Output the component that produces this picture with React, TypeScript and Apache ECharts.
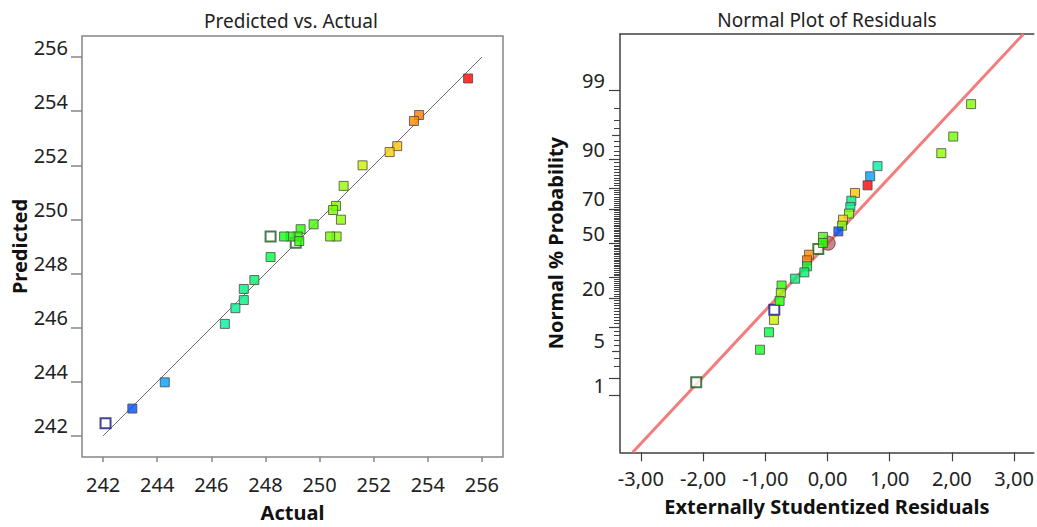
import React, { useEffect, useRef } from "react";
import * as echarts from "echarts";

// ---------- Predicted vs. Actual ----------
const actualValues = [255.49, 253.68, 253.49, 252.87, 252.59, 251.59, 250.89, 250.61, 250.5, 250.79, 250.63, 250.39, 249.78, 249.3, 249.19, 248.93, 248.69, 249.25, 248.19, 247.59, 247.2, 247.2, 246.89, 246.5, 244.28, 243.08];
const predictedValues = [255.21, 253.86, 253.64, 252.71, 252.49, 252.0, 251.24, 250.5, 250.35, 249.99, 249.37, 249.37, 249.82, 249.64, 249.37, 249.37, 249.37, 249.2, 248.61, 247.76, 247.43, 247.02, 246.72, 246.14, 243.98, 243.01];
const hollowActual = [249.12, 248.19, 242.09];
const hollowPredicted = [249.14, 249.37, 242.47];
const diagonalEnds = [242, 256];
const pvaTicks = [242, 244, 246, 248, 250, 252, 254, 256];

// ---------- Normal Plot of Residuals ----------
const residuals = [2.308, 2.021, 1.829, 0.804, 0.686, 0.644, 0.442, 0.383, 0.367, 0.346, 0.25, 0.234, 0.175, -0.073, -0.073, -0.297, -0.329, -0.329, -0.372, -0.52, -0.738, -0.75, -0.77, -0.861, -0.941, -1.085];
const probabilities = [98.3, 94.8, 91.5, 88.0, 84.6, 81.1, 77.8, 74.1, 70.9, 67.4, 64.0, 60.5, 57.1, 53.8, 50.1, 43.0, 39.7, 36.2, 32.8, 29.4, 25.9, 22.4, 18.9, 12.1, 8.7, 5.2];
const responseLevels = [250.63, 250.39, 250.79, 246.5, 244.28, 255.49, 252.87, 247.2, 246.89, 250.61, 252.59, 250.5, 243.08, 249.78, 249.19, 253.49, 253.68, 248.4, 247.59, 247.2, 249.3, 250.89, 249.0, 251.59, 248.19, 248.69];
const hollowResiduals = [-0.148, -0.855, -2.11];
const hollowProbabilities = [46.5, 15.5, 1.7];
const hollowLevels = [249.12, 242.09, 248.19];
const centerResidual = [0.011];
const centerProbability = [50];
const fitLineResiduals = [-3.13, 3.15];
const fitLineProbabilities = [0.071, 99.929];
const residualTicks = [-3, -2, -1, 0, 1, 2, 3];
const probabilityLabels = [1, 5, 20, 50, 70, 90, 99];
const probabilityMajor = [1, 2, 10, 20, 30, 50, 70, 80, 90, 99];
const probabilityMedium = [5, 95];
const probabilityMinor = Array.from({ length: 99 }, (_, i) => i + 1);

const FONT = "'Noto Sans', 'Open Sans', sans-serif";

function probit(p: number): number {
  const a = [-3.969683028665376e1, 2.209460984245205e2, -2.759285104469687e2, 1.38357751867269e2, -3.066479806614716e1, 2.506628277459239];
  const b = [-5.447609879822406e1, 1.615858368580409e2, -1.556989798598866e2, 6.680131188771972e1, -1.328068155288572e1];
  const c = [-7.784894002430293e-3, -3.223964580411365e-1, -2.400758277161838, -2.549732539343734, 4.374664141464968, 2.938163982698783];
  const d = [7.784695709041462e-3, 3.224671290700398e-1, 2.445134137142996, 3.754408661907416];
  const plow = 0.02425;
  const phigh = 1 - plow;
  let q: number, r: number;
  if (p < plow) {
    q = Math.sqrt(-2 * Math.log(p));
    return (((((c[0] * q + c[1]) * q + c[2]) * q + c[3]) * q + c[4]) * q + c[5]) / ((((d[0] * q + d[1]) * q + d[2]) * q + d[3]) * q + 1);
  }
  if (p > phigh) {
    q = Math.sqrt(-2 * Math.log(1 - p));
    return -(((((c[0] * q + c[1]) * q + c[2]) * q + c[3]) * q + c[4]) * q + c[5]) / ((((d[0] * q + d[1]) * q + d[2]) * q + d[3]) * q + 1);
  }
  q = p - 0.5;
  r = q * q;
  return ((((((a[0] * r + a[1]) * r + a[2]) * r + a[3]) * r + a[4]) * r + a[5]) * q) / (((((b[0] * r + b[1]) * r + b[2]) * r + b[3]) * r + b[4]) * r + 1);
}
const z = (pct: number) => probit(pct / 100);

const colorStops: [number, number[]][] = [
  [242.0, [0, 32, 255]],
  [243.1, [0, 80, 255]],
  [244.3, [0, 160, 255]],
  [246.5, [0, 240, 160]],
  [247.4, [0, 240, 120]],
  [248.2, [0, 255, 64]],
  [249.0, [32, 255, 0]],
  [249.8, [64, 255, 0]],
  [250.6, [128, 255, 0]],
  [251.6, [208, 240, 0]],
  [252.6, [255, 208, 0]],
  [252.9, [255, 192, 0]],
  [253.6, [255, 128, 0]],
  [255.5, [255, 0, 0]],
];
function levelColor(v: number): string {
  if (v <= colorStops[0][0]) return `rgb(${colorStops[0][1].join(",")})`;
  for (let i = 1; i < colorStops.length; i++) {
    const [v1, c1] = colorStops[i];
    const [v0, c0] = colorStops[i - 1];
    if (v <= v1) {
      const t = (v - v0) / (v1 - v0);
      const c = c0.map((x, k) => Math.round(x + (c1[k] - x) * t));
      return `rgb(${c.join(",")})`;
    }
  }
  return `rgb(${colorStops[colorStops.length - 1][1].join(",")})`;
}
const hollowBorder = (v: number) => (v < 245 ? "#14147e" : "#1e5a1e");

const Z_LIMIT = 3.19;

export default function App() {
  const ref = useRef<HTMLDivElement>(null);
  useEffect(() => {
    if (!ref.current) return;
    const chart = echarts.init(ref.current, null, { renderer: "svg" });

    const filledStyle = { borderColor: "#4a4a4a", borderWidth: 1 };
    const leftBorder = "#858585";
    const rightBorder = "#404040";
    const labelStyle = { fontSize: 20, color: "#222", fontFamily: FONT };
    const nameStyle = { fontSize: 20, fontWeight: "bold" as const, color: "#111", fontFamily: FONT };
    const hiddenLine = { show: false, onZero: false };
    const frameLine = { show: true, onZero: false, lineStyle: { color: rightBorder, width: 1.5 } };

    const probAxisBase = {
      type: "value" as const,
      gridIndex: 1,
      min: -Z_LIMIT,
      max: Z_LIMIT,
      position: "left" as const,
      splitLine: { show: false },
      axisLine: hiddenLine,
    };

    const option: any = {
      animation: false,
      textStyle: { fontFamily: FONT },
      grid: [
        { left: 82, top: 36, width: 421, height: 421.7, show: true, borderColor: leftBorder, borderWidth: 1.5, backgroundColor: "#fff" },
        { left: 620, top: 34, width: 417, height: 418.3, show: false },
      ],
      graphic: [
        { type: "text", x: 291, y: 21, style: { text: "Predicted vs. Actual", align: "center", verticalAlign: "middle", fontSize: 19, fontFamily: FONT, fill: "#222" } },
        { type: "text", x: 827, y: 20, style: { text: "Normal Plot of Residuals", align: "center", verticalAlign: "middle", fontSize: 19, fontFamily: FONT, fill: "#222" } },
      ],
      xAxis: [
        {
          type: "value",
          gridIndex: 0,
          min: 241.22,
          max: 256.78,
          name: "Actual",
          nameLocation: "middle",
          nameGap: 45,
          nameTextStyle: nameStyle,
          splitLine: { show: false },
          axisLine: hiddenLine,
          axisTick: { show: true, length: 5, customValues: pvaTicks, lineStyle: { color: leftBorder, width: 1.5 } },
          axisLabel: { ...labelStyle, margin: 17, customValues: pvaTicks },
        },
        {
          type: "value",
          gridIndex: 1,
          min: -3.335,
          max: 3.316,
          position: "bottom",
          name: "Externally Studentized Residuals",
          nameLocation: "middle",
          nameGap: 44,
          nameTextStyle: nameStyle,
          splitLine: { show: false },
          axisLine: frameLine,
          axisTick: { show: true, length: 9, customValues: residualTicks, lineStyle: { color: rightBorder, width: 1.2 } },
          axisLabel: {
            ...labelStyle,
            margin: 16,
            customValues: residualTicks,
            formatter: (v: number) => v.toFixed(2).replace(".", ",").replace("-0,00", "0,00"),
          },
        },
        {
          type: "value",
          gridIndex: 1,
          min: -3.335,
          max: 3.316,
          position: "top",
          splitLine: { show: false },
          axisLine: frameLine,
          axisTick: { show: false },
          axisLabel: { show: false },
        },
      ],
      yAxis: [
        {
          type: "value",
          gridIndex: 0,
          min: 241.22,
          max: 256.78,
          name: "Predicted",
          nameLocation: "middle",
          nameGap: 53,
          nameTextStyle: nameStyle,
          splitLine: { show: false },
          axisLine: hiddenLine,
          axisTick: { show: true, length: 11, customValues: pvaTicks, lineStyle: { color: leftBorder, width: 1.5 } },
          axisLabel: { ...labelStyle, margin: 14, verticalAlign: "bottom", customValues: pvaTicks },
        },
        { ...probAxisBase, axisTick: { show: true, length: 6, customValues: probabilityMinor.map(z), lineStyle: { color: rightBorder, width: 1 } }, axisLabel: { show: false } },
        {
          ...probAxisBase,
          axisLine: frameLine,
          name: "Normal % Probability",
          nameLocation: "middle",
          nameGap: 55,
          nameTextStyle: nameStyle,
          axisTick: { show: true, length: 11, customValues: probabilityMajor.map(z), lineStyle: { color: rightBorder, width: 1.2 } },
          axisLabel: {
            ...labelStyle,
            margin: 15,
            verticalAlign: "bottom",
            customValues: probabilityLabels.map(z),
            formatter: (v: number) => {
              const p = probabilityLabels.find((q) => Math.abs(z(q) - v) < 1e-6);
              return p === undefined ? "" : String(p);
            },
          },
        },
        { ...probAxisBase, axisTick: { show: true, length: 8, customValues: probabilityMedium.map(z), lineStyle: { color: rightBorder, width: 1.2 } }, axisLabel: { show: false } },
      ],
      series: [
        {
          type: "line",
          xAxisIndex: 0,
          yAxisIndex: 0,
          data: diagonalEnds.map((v) => [v, v]),
          symbol: "none",
          lineStyle: { color: "#6e6e6e", width: 1 },
          z: 1,
        },
        {
          type: "scatter",
          xAxisIndex: 0,
          yAxisIndex: 0,
          symbol: "rect",
          symbolSize: 10,
          data: hollowActual.map((a, i) => ({
            value: [a, hollowPredicted[i]],
            itemStyle: { color: "#ffffff", borderColor: hollowBorder(a), borderWidth: 2 },
          })),
          z: 2,
        },
        {
          type: "scatter",
          xAxisIndex: 0,
          yAxisIndex: 0,
          symbol: "rect",
          symbolSize: 9,
          data: actualValues.map((a, i) => ({
            value: [a, predictedValues[i]],
            itemStyle: { color: levelColor(a), ...filledStyle },
          })),
          z: 3,
        },
        {
          type: "line",
          xAxisIndex: 1,
          yAxisIndex: 2,
          data: fitLineResiduals.map((r, i) => [r, z(fitLineProbabilities[i])]),
          symbol: "none",
          lineStyle: { color: "#f47c7c", width: 3 },
          z: 1,
        },
        {
          type: "scatter",
          xAxisIndex: 1,
          yAxisIndex: 2,
          symbol: "circle",
          symbolSize: 14,
          data: centerResidual.map((r, i) => [r, z(centerProbability[i])]),
          itemStyle: { color: "rgba(176,80,80,0.85)", borderColor: "#6a3030", borderWidth: 1 },
          z: 2,
        },
        {
          type: "scatter",
          xAxisIndex: 1,
          yAxisIndex: 2,
          symbol: "rect",
          symbolSize: 10,
          data: hollowResiduals.map((r, i) => ({
            value: [r, z(hollowProbabilities[i])],
            itemStyle: { color: "#ffffff", borderColor: hollowBorder(hollowLevels[i]), borderWidth: 2 },
          })),
          z: 3,
        },
        {
          type: "scatter",
          xAxisIndex: 1,
          yAxisIndex: 2,
          symbol: "rect",
          symbolSize: 9,
          data: residuals.map((r, i) => ({
            value: [r, z(probabilities[i])],
            itemStyle: { color: levelColor(responseLevels[i]), ...filledStyle },
          })),
          z: 4,
        },
      ],
    };
    chart.setOption(option);
    return () => chart.dispose();
  }, []);
  return <div ref={ref} style={{ position: "fixed", left: 0, top: 0, width: 1037, height: 527, background: "#fff" }} />;
}
